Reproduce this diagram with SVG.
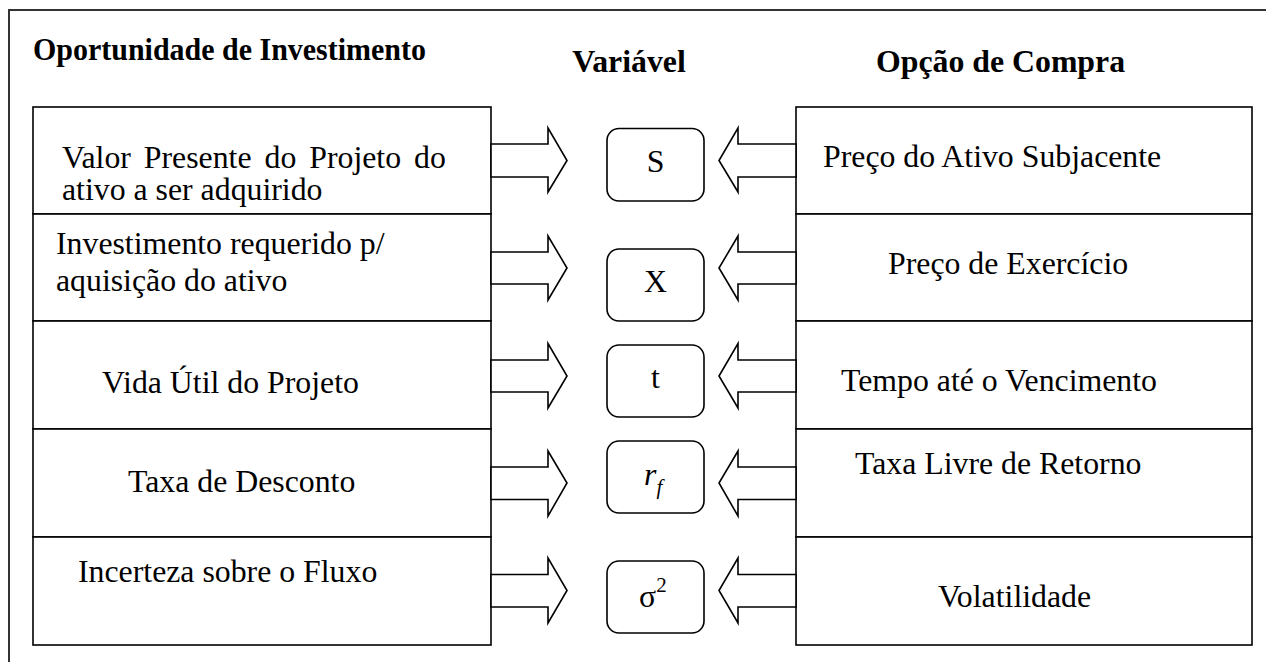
<svg xmlns="http://www.w3.org/2000/svg" width="1266" height="662" viewBox="0 0 1266 662" font-family="'Liberation Serif', Tinos, 'Times New Roman', serif">
<style>
text{font-family:'Liberation Serif', Tinos, 'Times New Roman', serif;font-size:31.8px;fill:#000}
.h{font-weight:bold}
.box{fill:#fff;stroke:#000;stroke-width:1.6}
.var{fill:#fff;stroke:#000;stroke-width:1.6}
.arr{fill:#fff;stroke:#000;stroke-width:1.6;stroke-linejoin:miter}
.frame{fill:#fff;stroke:#333;stroke-width:2}
</style>
<rect width="1266" height="662" fill="#fff"/>
<rect class="frame" x="9" y="10" width="1300" height="700"/>
<g id="headers">
<text class="h" x="33" y="60" textLength="393" lengthAdjust="spacingAndGlyphs">Oportunidade de Investimento</text>
<text class="h" x="629" y="72" text-anchor="middle">Variável</text>
<text class="h" x="876" y="72">Opção de Compra</text>
</g>
<g id="left-column">
<g id="l1"><rect class="box" x="33" y="107" width="458" height="107"/><text x="62" y="168" word-spacing="5">Valor Presente do Projeto do</text><text x="62" y="200">ativo a ser adquirido</text></g>
<g id="l2"><rect class="box" x="33" y="214" width="458" height="107"/><text x="56" y="254">Investimento requerido p/</text><text x="56" y="291">aquisição do ativo</text></g>
<g id="l3"><rect class="box" x="33" y="321" width="458" height="108"/><text x="102" y="393">Vida Útil do Projeto</text></g>
<g id="l4"><rect class="box" x="33" y="429" width="458" height="108"/><text x="128" y="492">Taxa de Desconto</text></g>
<g id="l5"><rect class="box" x="33" y="537" width="458" height="108"/><text x="78" y="582">Incerteza sobre o Fluxo</text></g>
</g>
<g id="right-column">
<g id="r1"><rect class="box" x="796" y="107" width="456" height="107"/><text x="823" y="167">Preço do Ativo Subjacente</text></g>
<g id="r2"><rect class="box" x="796" y="214" width="456" height="107"/><text x="888" y="274">Preço de Exercício</text></g>
<g id="r3"><rect class="box" x="796" y="321" width="456" height="108"/><text x="841" y="391">Tempo até o Vencimento</text></g>
<g id="r4"><rect class="box" x="796" y="429" width="456" height="108"/><text x="855" y="474">Taxa Livre de Retorno</text></g>
<g id="r5"><rect class="box" x="796" y="537" width="456" height="108"/><text x="938" y="607">Volatilidade</text></g>
</g>
<g id="connectors">
<polygon class="arr" points="491,144 548,144 548,128 567,160.5 548,192 548,177 491,177"/>
<polygon class="arr" points="796,144 738,144 738,128 719,160.5 738,192 738,177 796,177"/>
<polygon class="arr" points="491,252 548,252 548,236 567,268 548,300 548,284 491,284"/>
<polygon class="arr" points="796,252 738,252 738,236 719,268 738,300 738,284 796,284"/>
<polygon class="arr" points="491,360 548,360 548,343.5 567,376 548,408 548,392 491,392"/>
<polygon class="arr" points="796,360 738,360 738,343.5 719,376 738,408 738,392 796,392"/>
<polygon class="arr" points="491,467 548,467 548,451 567,483 548,516 548,499.5 491,499.5"/>
<polygon class="arr" points="796,467 738,467 738,451 719,483 738,516 738,499.5 796,499.5"/>
<polygon class="arr" points="491,574.5 548,574.5 548,558 567,590.5 548,623 548,607 491,607"/>
<polygon class="arr" points="796,574.5 738,574.5 738,558 719,590.5 738,623 738,607 796,607"/>
</g>
<g id="var-S"><rect class="var" x="607" y="128.5" width="97" height="72.5" rx="12"/><text x="655.5" y="172" text-anchor="middle">S</text></g>
<g id="var-X"><rect class="var" x="607" y="249" width="97" height="72" rx="12"/><text x="655.5" y="292" text-anchor="middle">X</text></g>
<g id="var-t"><rect class="var" x="607" y="345" width="97" height="72" rx="12"/><text x="655.5" y="388" text-anchor="middle">t</text></g>
<g id="var-rf"><rect class="var" x="607" y="441" width="97" height="72" rx="12"/><text x="644" y="485" font-style="italic">r<tspan font-size="21" dy="9">f</tspan></text></g>
<g id="var-sigma"><rect class="var" x="607" y="561" width="97" height="72" rx="12"/><text x="639" y="607">σ<tspan font-size="21" dy="-15">2</tspan></text></g>
</svg>
